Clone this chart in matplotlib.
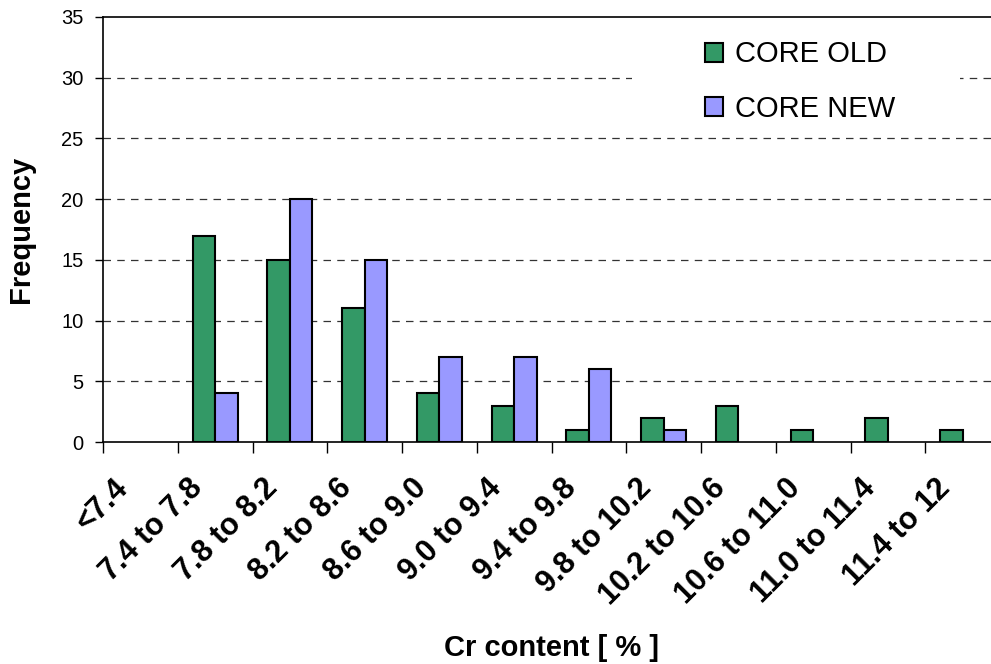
import numpy as np
import matplotlib.pyplot as plt
import matplotlib.transforms as mtransforms
from matplotlib.patches import Rectangle

categories = ["<7.4", "7.4 to 7.8", "7.8 to 8.2", "8.2 to 8.6", "8.6 to 9.0",
              "9.0 to 9.4", "9.4 to 9.8", "9.8 to 10.2", "10.2 to 10.6",
              "10.6 to 11.0", "11.0 to 11.4", "11.4 to 12"]
core_old = [0, 17, 15, 11, 4, 3, 1, 2, 3, 1, 2, 1]
core_new = [0, 4, 20, 15, 7, 7, 6, 1, 0, 0, 0, 0]

plt.rcParams['font.family'] = ['Liberation Sans', 'DejaVu Sans']

fig = plt.figure(figsize=(9.91, 6.64), dpi=100)
ax = fig.add_axes([103 / 991, 1 - 442 / 664, 897 / 991, 425 / 664])

x = np.arange(len(categories))
w = 0.3
old_mask = np.array(core_old) > 0
new_mask = np.array(core_new) > 0
ax.bar(x[old_mask] - w / 2, np.array(core_old)[old_mask], w, color='#339966',
       edgecolor='black', linewidth=1.5, label='CORE OLD', zorder=3)
ax.bar(x[new_mask] + w / 2, np.array(core_new)[new_mask], w, color='#9999FF',
       edgecolor='black', linewidth=1.5, label='CORE NEW', zorder=3)

ax.set_xlim(-0.5, len(categories) - 0.5)
ax.set_ylim(0, 35)
ax.set_yticks(np.arange(0, 36, 5))
ax.tick_params(axis='y', labelsize=14.5, length=6, width=1, pad=8)

# ticks at category boundaries, labels at centres
ax.set_xticks(np.arange(-0.5, len(categories), 1))
ax.set_xticklabels([])
ax.tick_params(axis='x', which='major', length=8, width=1)
ax.set_xticks(x, minor=True)
ax.set_xticklabels(categories, minor=True, rotation=45, ha='right', va='center',
                   rotation_mode='anchor', fontsize=22, fontweight='bold')
ax.tick_params(axis='x', which='minor', length=0, pad=30)
shift = mtransforms.ScaledTranslation(-17 / 100, 0, fig.dpi_scale_trans)
for lab in ax.get_xticklabels(minor=True):
    lab.set_transform(lab.get_transform() + shift)

for y in range(5, 31, 5):
    ax.axhline(y, color='#333333', linewidth=0.9, dashes=(6, 5), zorder=1)

for side in ['left', 'bottom', 'top']:
    ax.spines[side].set_linewidth(1.2)
ax.spines['right'].set_visible(False)

ax.set_ylabel('Frequency', fontsize=21, fontweight='bold', labelpad=19)
fig.text(552 / 991, 1 - 648 / 664, 'Cr content [ % ]', fontsize=21,
         fontweight='bold', ha='center', va='center')

# white legend area hiding part of the 30 gridline
blend = mtransforms.blended_transform_factory(ax.transAxes, ax.transData)
ax.add_patch(Rectangle(((632 - 103) / 897, 27), (960 - 632) / 897, 6,
                       transform=blend, facecolor='white', edgecolor='none',
                       zorder=2))

leg = ax.legend(loc='upper left', bbox_to_anchor=((705 - 103) / 897, 0.945),
                fontsize=21, frameon=False, handlelength=0.62,
                handleheight=0.62, handletextpad=0.4, labelspacing=0.92,
                borderpad=0, borderaxespad=0)
for h in leg.legend_handles:
    h.set_linewidth(1.5)

fig.savefig('out.png', dpi=100)
